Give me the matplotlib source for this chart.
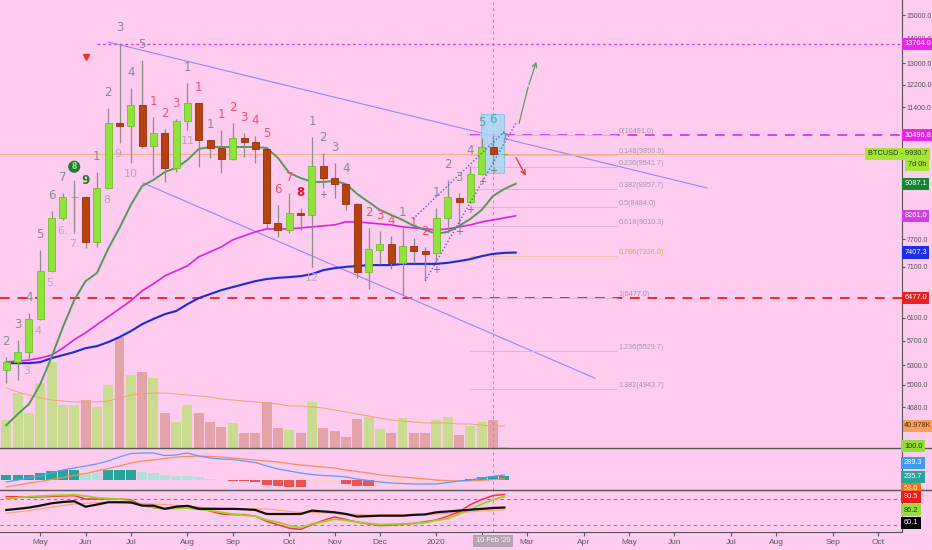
import numpy as np
import pandas as pd
import matplotlib
matplotlib.use("Agg")
import matplotlib.pyplot as plt
from matplotlib.lines import Line2D
from matplotlib.patches import Rectangle
from matplotlib.ticker import NullLocator, NullFormatter

plt.rcParams['font.family'] = ['DejaVu Sans']

LAB_FONT = 'Liberation Sans'
LAB_SIZE = 5.3
TICK_SIZE = 5.0

BG = '#fdccef'
W, H = 932, 550

# weekly BTCUSD candles, first one = week of 15 Apr 2019
opens = [5225, 5350, 5511, 6081, 7016, 8210, 8737, 8737, 7645, 8974,
         10883, 10787, 11480, 10165, 10565, 9522, 10948, 11549, 10347, 10105,
         9780, 10409, 10286, 10075, 8089, 7923, 8333, 8283, 9579, 9244,
         9081, 8558, 6995, 7466, 7600, 7184, 7555, 7444, 7400, 8210,
         8711, 8608, 9355, 10135, 9915]
highs = [5430, 5717, 6190, 7466, 8382, 8841, 9190, 8760, 9410, 11378,
         13802, 12074, 13123, 11079, 10691, 11013, 12255, 11560, 10360, 10659,
         10883, 10565, 10471, 10090, 8533, 8841, 8457, 10440, 9956, 9665,
         9090, 8570, 7970, 7899, 7783, 7970, 7737, 7533, 8457, 9190,
         8841, 9579, 10409, 10502, 9940]
lows = [5027, 5072, 5382, 6063, 6995, 8161, 7853, 7511, 7533, 8950,
        10256, 9665, 10105, 9327, 9135, 9410, 10659, 9551, 9809, 9382,
        9751, 9838, 9665, 7946, 7760, 7853, 7923, 7099, 8974, 8711,
        8407, 6871, 6650, 7162, 7057, 6532, 7184, 6830, 7184, 7853,
        8041, 8583, 9327, 9620, 9910]
closes = [5350, 5511, 6081, 7016, 8210, 8737, 8745, 7645, 8974, 10883,
          10787, 11480, 10165, 10565, 9522, 10948, 11549, 10347, 10105, 9780,
          10409, 10286, 10075, 8089, 7923, 8333, 8283, 9579, 9244, 9081,
          8558, 6995, 7489, 7600, 7184, 7555, 7444, 7378, 8210, 8737,
          8608, 9355, 10135, 9926, 9930.7]
volumes = [52.2, 102.4, 65.2, 121.1, 160.2, 80.1, 80.1, 89.4, 76.4, 117.3,
           206.8, 136.0, 141.6, 130.4, 65.2, 48.4, 80.1, 65.2, 48.4, 39.1,
           46.6, 27.9, 27.9, 85.7, 37.3, 33.5, 27.9, 85.7, 37.3, 31.7,
           20.5, 54.0, 57.7, 35.4, 27.9, 55.9, 27.9, 27.9, 52.2, 57.7,
           24.2, 41.0, 48.4, 52.2, 1.2]
vol_ma = [111.8, 104.3, 98.7, 93.1, 89.4, 87.5, 85.7, 85.7, 85.7, 87.5,
          93.1, 98.7, 100.6, 102.4, 102.4, 100.6, 98.7, 96.9, 95.0, 91.3,
          89.4, 87.5, 85.7, 83.8, 82.0, 78.2, 78.2, 76.4, 74.5, 70.8,
          67.1, 63.3, 59.6, 55.9, 52.2, 50.3, 48.4, 46.6, 46.6, 46.6,
          44.7, 44.7, 42.8, 41.0, 40.978]

# moving averages (drawn 2 bars forward, so 46 points)
ma_green = [4436, 4583, 4720, 5010, 5430, 5936, 6431, 6804, 6969, 7490,
            7970, 8533, 9025, 9190, 9410, 9522, 9751, 10075, 10135, 10135,
            10135, 10135, 10135, 10105, 9809, 9382, 9244, 9135, 9135, 9162,
            9081, 8815, 8608, 8407, 8283, 8161, 8018, 7923, 7830, 7876,
            8018, 8185, 8407, 8763, 8948, 9087.1]
ma_magenta = [5350, 5366, 5382, 5414, 5462, 5577, 5717, 5836, 5978, 6121,
              6268, 6418, 6612, 6750, 6912, 7016, 7120, 7312, 7422, 7533,
              7690, 7783, 7876, 7946, 7946, 7946, 7970, 7994, 8018, 8041,
              8113, 8113, 8089, 8065, 8041, 7994, 7970, 7946, 7923, 7946,
              7994, 8041, 8113, 8161, 8210, 8261.0]
ma_blue = [5333, 5333, 5333, 5349, 5413, 5461, 5511, 5576, 5609, 5676,
           5762, 5865, 5988, 6081, 6168, 6225, 6354, 6470, 6547, 6625,
           6684, 6744, 6804, 6846, 6871, 6886, 6906, 6948, 7030, 7072,
           7099, 7115, 7136, 7136, 7136, 7162, 7162, 7162, 7162, 7184,
           7221, 7264, 7329, 7378, 7400, 7407.3]

# MACD pane
macd_line = [-143, -19, 105, 229, 415, 601, 725, 849, 973, 1159,
             1407, 1624, 1655, 1655, 1500, 1531, 1655, 1469, 1345, 1283,
             1252, 1159, 1066, 849, 663, 539, 415, 322, 260, 229,
             167, 43, -50, -143, -205, -236, -267, -267, -267, -174,
             -81, -19, 110, 215, 289.3]
macd_signal = [-453, -329, -205, -112, 12, 136, 260, 384, 539, 694,
               849, 1035, 1159, 1221, 1314, 1407, 1438, 1469, 1438, 1407,
               1345, 1283, 1221, 1159, 1097, 1004, 911, 849, 787, 725,
               601, 508, 415, 291, 229, 167, 105, 43, -20, -60,
               -80, -70, -40, 0, 53.6]
macd_hist = [310, 310, 310, 415, 558, 601, 620, 397, 390, 620,
             625, 630, 459, 397, 291, 248, 240, 149, 43, -25,
             -62, -99, -161, -329, -409, -434, -471, -223, -205, -200,
             -267, -372, -409, -330, -300, -260, -220, -190, -150, -110,
             -40, 60, 150, 215, 235.7]

# stochastic / rsi pane
stoch_k = [85.5, 85, 84, 85, 86, 87, 88, 80, 80, 80,
           80, 78, 65, 60, 57, 62, 64, 59, 52, 45,
           43.5, 43.5, 40, 28, 20, 12, 9, 20, 30, 38,
           32, 26, 22, 18, 19, 21, 23, 27, 31, 40,
           50, 67, 79, 88, 90.5]
stoch_d = [80, 83, 85.5, 87, 88, 89, 90, 87, 83, 81,
           80, 75, 65, 60, 57, 58, 59, 56, 53, 49,
           45, 42, 40, 31, 26, 18, 13, 22, 27, 33,
           30, 26, 23, 20, 21, 22, 23, 25, 30, 34,
           45, 55, 68, 78, 86.2]
rsi = [54.4, 57, 60, 64.5, 70, 73, 74.8, 62, 67, 72.4,
       72.4, 72, 64.5, 64.5, 57, 62, 64, 57, 57, 57,
       57, 56, 54.4, 45, 45, 45, 45, 53, 51, 49,
       45, 39, 40, 41, 41, 41, 43, 44, 49, 51,
       53, 55, 57, 59, 60.1]
rsi_ma = [46.7, 50, 53, 57, 61, 65, 68.5, 70, 71.5, 72.4,
          71.5, 70.5, 69.5, 68, 67, 65.5, 63, 61, 59.5, 58,
          57, 57, 57, 57, 54, 51, 49, 49, 48, 46.5,
          45, 44, 43, 42.8, 42.8, 42.8, 42.8, 43.5, 45, 46.5,
          48, 50, 52, 53.5, 54.4]

# TD-style counts above candles
up_idx = [0, 1, 2, 3, 4, 5, 7, 8, 9, 10, 11, 12, 13, 14, 15, 16, 17, 18, 19, 20,
          21, 22, 23, 24, 25, 26, 27, 28, 29, 30, 32, 33, 34, 35, 36, 37, 38, 39,
          40, 41, 42, 43, 44]
up_txt = ['2', '3', '4', '5', '6', '7', '9', '1', '2', '3', '4', '5', '1', '2', '3',
          '1', '1', '1', '1', '2', '3', '4', '5', '6', '7', '8', '1', '2', '3', '4',
          '2', '3', '4', '1', '1', '2', '1', '2', '3', '4', '5', '6', '7']
up_kind = ['g', 'g', 'g', 'g', 'g', 'g', 'G', 'g', 'g', 'g', 'g', 'g', 'r', 'r', 'r',
           'g', 'r', 'g', 'r', 'r', 'r', 'r', 'r', 'r', 'r', 'R', 'g', 'g', 'g', 'g',
           'r', 'r', 'r', 'g', 'r', 'r', 'g', 'g', 'g', 'g', 't', 't', 't']
down_idx = [2, 3, 4, 5, 6, 9, 10, 11, 16, 27]
down_txt = ['3.', '4.', '5.', '6.', '7.', '8.', '9.', '10', '11', '12']
plus_idx = [28, 38, 40, 41, 42, 43]

# drawings
chan_up_x, chan_up_y = [9.0, 61.9], [13844, 8974]
chan_lo_x, chan_lo_y = [12.07, 52.0], [9110, 5100]
wedge_a_x, wedge_a_y = [37.0, 45.03], [6804, 10883]
wedge_b_x, wedge_b_y = [35.93, 44.05], [8185, 10628]
box_x, box_y = [41.93, 43.96], [9382, 11178]
arrow_up_x, arrow_up_y = [45.3, 46.1, 46.9], [10883, 12110, 13164]
arrow_dn_x, arrow_dn_y = [44.9, 46.0], [9893, 9244]
fib_levels = ['0', '0.148', '0.236', '0.382', '0.5', '0.618', '0.786', '1', '1.236', '1.382']
fib_prices = [10491.0, 9896.9, 9541.7, 8957.7, 8484.0, 8010.3, 7336.0, 6477.0, 5529.7, 4943.7]
fib_x = [40.96, 53.95]
last_price = 9930.7
ath_level = 13764.0
res_level = 10496.8
sup_level = 6477.0
price_ticks = [15000, 14000, 13000, 12200, 11400, 7700, 7100, 6100, 5700, 5300, 5000, 4680]

opens, highs, lows, closes = map(np.array, (opens, highs, lows, closes))
n = len(closes)
idx = np.arange(n)
up = closes >= opens

weeks = pd.date_range('2019-04-15', periods=80, freq='W-MON')
tick_pos, tick_lab = [], []
for k in range(1, len(weeks)):
    if weeks[k].month != weeks[k - 1].month:
        tick_pos.append(k)
        tick_lab.append(str(weeks[k].year) if weeks[k].month == 1 else weeks[k].strftime('%b'))


def rect(x0, y0, x1, y1):
    return [x0 / W, 1 - y1 / H, (x1 - x0) / W, (y1 - y0) / H]


fig = plt.figure(figsize=(9.32, 5.5), dpi=100, facecolor=BG)
ax_vol = fig.add_axes(rect(0, 0, 902, 448))
ax = fig.add_axes(rect(0, 0, 902, 448), sharex=ax_vol)
ax_macd = fig.add_axes(rect(0, 448, 902, 490), sharex=ax_vol)
ax_st = fig.add_axes(rect(0, 490, 902, 531.7), sharex=ax_vol)

for a in (ax_vol, ax, ax_macd, ax_st):
    a.set_facecolor(BG)
    for s in a.spines.values():
        s.set_visible(False)
    a.tick_params(axis='x', bottom=False, labelbottom=False)
    a.tick_params(axis='y', left=False, labelleft=False, right=False, labelright=False)
ax.set_zorder(2)
ax.patch.set_visible(False)
ax_vol.set_xlim(-0.5565, 79.125)
for a in (ax, ax_macd, ax_st):
    a.spines['right'].set_visible(True)
    a.spines['right'].set_color('#555555')

# volume
vol_cols = ['#c9db8f' if u else '#e3a3a9' for u in up]
ax_vol.bar(idx, volumes, width=0.88, color=vol_cols, zorder=1)
ax_vol.plot(idx, vol_ma, color='#f4a070', lw=0.7, zorder=2)
ax_vol.set_ylim(0, 834.45)

# price
ax.set_yscale('log')
ax.set_ylim(4144.6, 15684)
ax.yaxis.set_minor_locator(NullLocator())
ax.yaxis.set_minor_formatter(NullFormatter())
ax.set_yticks(price_ticks)
ax.set_yticklabels([f'{t:.1f}' for t in price_ticks], family=LAB_FONT)
ax.tick_params(axis='y', right=True, labelright=True, labelsize=TICK_SIZE, colors='#555555',
               length=2.5, pad=1)

ax.axhline(last_price, color='#f2b48c', lw=0.8, zorder=1)
ax.hlines(ath_level, 8.0, 80, color='#e040e0', lw=1.0, linestyles=(0, (2, 2)), zorder=1)
ax.hlines(res_level, 40.96, 80, color='#e040e0', lw=1.4, linestyles=(0, (5, 4)), zorder=1)
ax.axhline(sup_level, color='#e8283a', lw=1.4, ls=(0, (5, 4)), zorder=1)
ax.plot(chan_up_x, chan_up_y, color='#9488ee', lw=0.8, zorder=1)
ax.plot(chan_lo_x, chan_lo_y, color='#9488ee', lw=0.8, zorder=1)

for lv, pr in zip(fib_levels, fib_prices):
    col = '#f39a4a' if lv == '0.786' else '#a898a8'
    ax.hlines(pr, fib_x[0], fib_x[1], color='#f2c0a0' if lv == '0.786' else '#d6b8cc', lw=0.7, zorder=1)
    ax.text(fib_x[1] + 0.15, pr, f'{lv}({pr:.1f})', fontsize=5.2, color=col, ha='left',
            va='bottom', family=LAB_FONT, zorder=2)

ax.add_patch(Rectangle((box_x[0], box_y[0]), box_x[1] - box_x[0], box_y[1] - box_y[0],
                       facecolor='#a6d8f2', edgecolor='#86c4ea', lw=0.8, alpha=0.85, zorder=2))

ax.plot(np.arange(len(ma_blue)), ma_blue, color='#1a2ad6', lw=1.5, zorder=3)
ax.plot(np.arange(len(ma_magenta)), ma_magenta, color='#dd22dd', lw=1.2, zorder=3)
ax.plot(np.arange(len(ma_green)), ma_green, color='#4f9a5f', lw=1.4, zorder=3)

# candles
bb = np.minimum(opens, closes)
bh = np.abs(closes - opens)
ax.vlines(idx, lows, highs, color='#8c8c8c', lw=0.9, zorder=4)
ax.bar(idx[up], bh[up], bottom=bb[up], width=0.62, color='#8fe33b', edgecolor='#6cc02a', lw=0.6, zorder=5)
ax.bar(idx[~up], bh[~up], bottom=bb[~up], width=0.62, color='#b7420f', edgecolor='#8f3008', lw=0.6, zorder=5)

ax.plot(wedge_a_x, wedge_a_y, color='#6655dd', lw=1.0, ls=(0, (1, 1.5)), zorder=6)
ax.plot(wedge_b_x, wedge_b_y, color='#6655dd', lw=1.0, ls=(0, (1, 1.5)), zorder=6)
ax.plot(arrow_up_x[:-1], arrow_up_y[:-1], color='#5a9a6a', lw=0.9, zorder=6)
ax.annotate('', xy=(arrow_up_x[-1], arrow_up_y[-1]), xytext=(arrow_up_x[-2], arrow_up_y[-2]),
            arrowprops=dict(arrowstyle='->', color='#5a9a6a', lw=0.9, mutation_scale=8), zorder=6)
ax.annotate('', xy=(arrow_dn_x[1], arrow_dn_y[1]), xytext=(arrow_dn_x[0], arrow_dn_y[0]),
            arrowprops=dict(arrowstyle='->', color='#e83030', lw=0.9, mutation_scale=8), zorder=6)
ax.plot([7.04], [13240], marker='v', color='#ff2a2a', ms=5, zorder=6)

kind_col = {'g': '#8a8a8a', 'r': '#f0506e', 'G': '#1e7a2e', 'R': '#e8112d', 't': '#4aa8b0'}
for i, t, k in zip(up_idx, up_txt, up_kind):
    ax.annotate(t, (i, highs[i]), xytext=(0, 11), textcoords='offset points', ha='center',
                va='center', fontsize=8.5, color=kind_col[k],
                fontweight='bold' if k in 'GR' else 'normal', zorder=7)
ax.annotate('8', (6, highs[6]), xytext=(0, 9.5), textcoords='offset points', ha='center',
            va='center', fontsize=5.5, color='#a6ea80', fontweight='bold',
            bbox=dict(boxstyle='circle,pad=0.2', fc='#1f7a35', ec='none'), zorder=7)
for i, t in zip(down_idx, down_txt):
    ax.annotate(t, (i, lows[i]), xytext=(0, -8), textcoords='offset points', ha='center',
                va='center', fontsize=8, color='#bba8b6', zorder=7)
for i in plus_idx:
    ax.annotate('+', (i, lows[i]), xytext=(0, -5), textcoords='offset points', ha='center',
                va='center', fontsize=7, color='#707070', zorder=7)

# MACD
h = np.array(macd_hist)
hcol = []
for i, v in enumerate(h):
    prev = h[i - 1] if i > 0 else v
    if v >= 0:
        hcol.append('#26a69a' if v >= prev else '#b2dfdb')
    else:
        hcol.append('#ef5350' if v < prev else '#ffcdd2')
ax_macd.bar(idx, h, width=0.9, color=hcol, zorder=1)
ax_macd.plot(idx, macd_signal, color='#ff8a5c', lw=0.9, zorder=2)
ax_macd.plot(idx, macd_line, color='#5b9cf6', lw=0.9, zorder=2)
ax_macd.set_ylim(-639, 1965)

# stochastic / rsi
ax_st.axhline(80, color='#e8506a', lw=0.8, ls=(0, (3, 3)))
ax_st.axhline(20, color='#5aa070', lw=0.8, ls=(0, (3, 3)))
ax_st.plot(idx, rsi_ma, color='#ffa070', lw=0.8)
ax_st.plot(idx, stoch_k, color='#ff2e4a', lw=1.1)
ax_st.plot(idx, stoch_d, color='#9bd323', lw=1.3)
ax_st.plot(idx, rsi, color='#111111', lw=1.6)
ax_st.set_ylim(3.7, 101)
ax_st.spines['bottom'].set_visible(True)
ax_st.spines['bottom'].set_color('#555555')
ax_st.set_xticks(tick_pos)
ax_st.set_xticklabels(tick_lab, family=LAB_FONT)
ax_st.tick_params(axis='x', bottom=True, labelbottom=True, labelsize=6, colors='#5a5a5a',
                  length=3, pad=2.5)

for a in (ax, ax_macd, ax_st):
    a.axvline(43, color='#9a9a9a', lw=0.7, ls=(0, (3, 3)), zorder=0)

for yy in (448, 490):
    fig.add_artist(Line2D([0, 1], [1 - yy / H] * 2, transform=fig.transFigure, color='#555555', lw=1))

TAG = dict(fontsize=LAB_SIZE, family=LAB_FONT, va='center', zorder=20)


def tag(x_px, y_px, txt, bg, fg='white', ha='left'):
    fig.text(x_px / W, 1 - y_px / H, txt, color=fg, ha=ha,
             bbox=dict(boxstyle='square,pad=0.35', fc=bg, ec='none'), **TAG)


def ptag(a, val, txt, bg, fg='white', x=1.0025):
    a.text(x, val, txt, transform=a.get_yaxis_transform(), color=fg, ha='left',
           clip_on=False, bbox=dict(boxstyle='square,pad=0.35', fc=bg, ec='none'), **TAG)


ptag(ax, ath_level, f'{ath_level:.1f}', '#e528e5')
ptag(ax, res_level, f'{res_level:.1f}', '#e528e5')
ptag(ax, ma_green[-1], f'{ma_green[-1]:.1f}', '#12872e')
ptag(ax, ma_magenta[-1], f'{ma_magenta[-1]:.1f}', '#d43fe0')
ptag(ax, ma_blue[-1], f'{ma_blue[-1]:.1f}', '#1d2fe6')
ptag(ax, sup_level, f'{sup_level:.1f}', '#e8231f')
ptag(ax, last_price, f'BTCUSD - {last_price:.1f}', '#a5e536', fg='#1d3a10', x=868 / 902)
tag(908, 165, '7d 0h', '#a5e536', fg='#1d3a10')
ptag(ax_vol, vol_ma[-1], f'{vol_ma[-1]:.3f}K', '#f5a15f', fg='#5a2a00')
tag(904, 446, '100.0', '#95dd3c', fg='#1d3a10')
tag(904, 463, f'{macd_line[-1]:.1f}', '#3d9cf0')
tag(904, 477, f'{macd_hist[-1]:.1f}', '#26a69a')
tag(904, 489, f'{macd_signal[-1]:.1f}', '#ff6f1a')
tag(904, 497, f'{stoch_k[-1]:.1f}', '#ee1c1c')
tag(904, 510, f'{stoch_d[-1]:.1f}', '#95dd3c', fg='#1d3a10')
tag(904, 523, f'{rsi[-1]:.1f}', '#000000')
tag(ax_st.transData.transform((43, 0))[0], 541, "10 Feb '20", '#b3a3b3', ha='center')

fig.savefig('out.png', dpi=100, facecolor=BG)
